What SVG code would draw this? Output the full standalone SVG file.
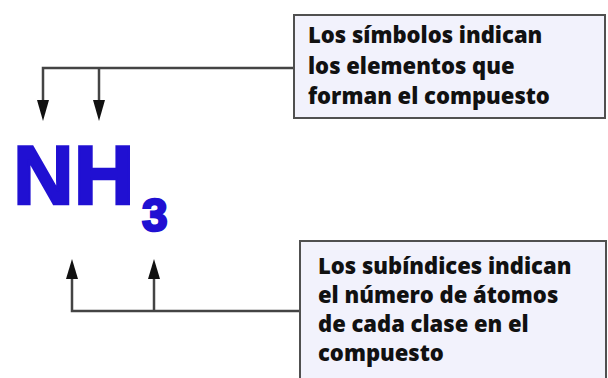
<svg xmlns="http://www.w3.org/2000/svg" width="608" height="378" viewBox="0 0 608 378">
<defs>
<style>
.box{fill:#f2f2fc;stroke:#505050;stroke-width:2}
.lbl{font-family:"Open Sans","Noto Sans","Liberation Sans",sans-serif;font-weight:800;font-size:22px;fill:#111}
.conn{fill:none;stroke:#444;stroke-width:2.5}
.chem{font-family:"Liberation Sans",Arial,sans-serif;font-weight:700;fill:#2010d2;stroke:#2010d2;stroke-width:2.5}
</style>
</defs>
<rect width="608" height="378" fill="#ffffff"/>
<g id="connectors">
<path class="conn" d="M294,68 H43 V102"/>
<path class="conn" d="M99,68 V102"/>
<polygon points="37,100 49,100 43,121" fill="#111"/>
<polygon points="93,100 105,100 99,121" fill="#111"/>
<path class="conn" d="M300,311 H72 V277"/>
<path class="conn" d="M154,311 V277"/>
<polygon points="66,279 78,279 72,259" fill="#111"/>
<polygon points="148,279 160,279 154,259" fill="#111"/>
</g>
<g id="formula">
<text class="chem" x="13" y="204" font-size="84">NH</text>
<text class="chem" x="142" y="231" font-size="46">3</text>
</g>
<g id="box-simbolos">
<rect class="box" x="294" y="15" width="311" height="103"/>
<text class="lbl" x="308" y="43">Los símbolos indican</text>
<text class="lbl" x="308" y="74">los elementos que</text>
<text class="lbl" x="308" y="104">forman el compuesto</text>
</g>
<g id="box-subindices">
<rect class="box" x="300" y="241" width="306" height="150"/>
<text class="lbl" x="318" y="274">Los subíndices indican</text>
<text class="lbl" x="318" y="303">el número de átomos</text>
<text class="lbl" x="318" y="332">de cada clase en el</text>
<text class="lbl" x="318" y="361">compuesto</text>
</g>
</svg>
